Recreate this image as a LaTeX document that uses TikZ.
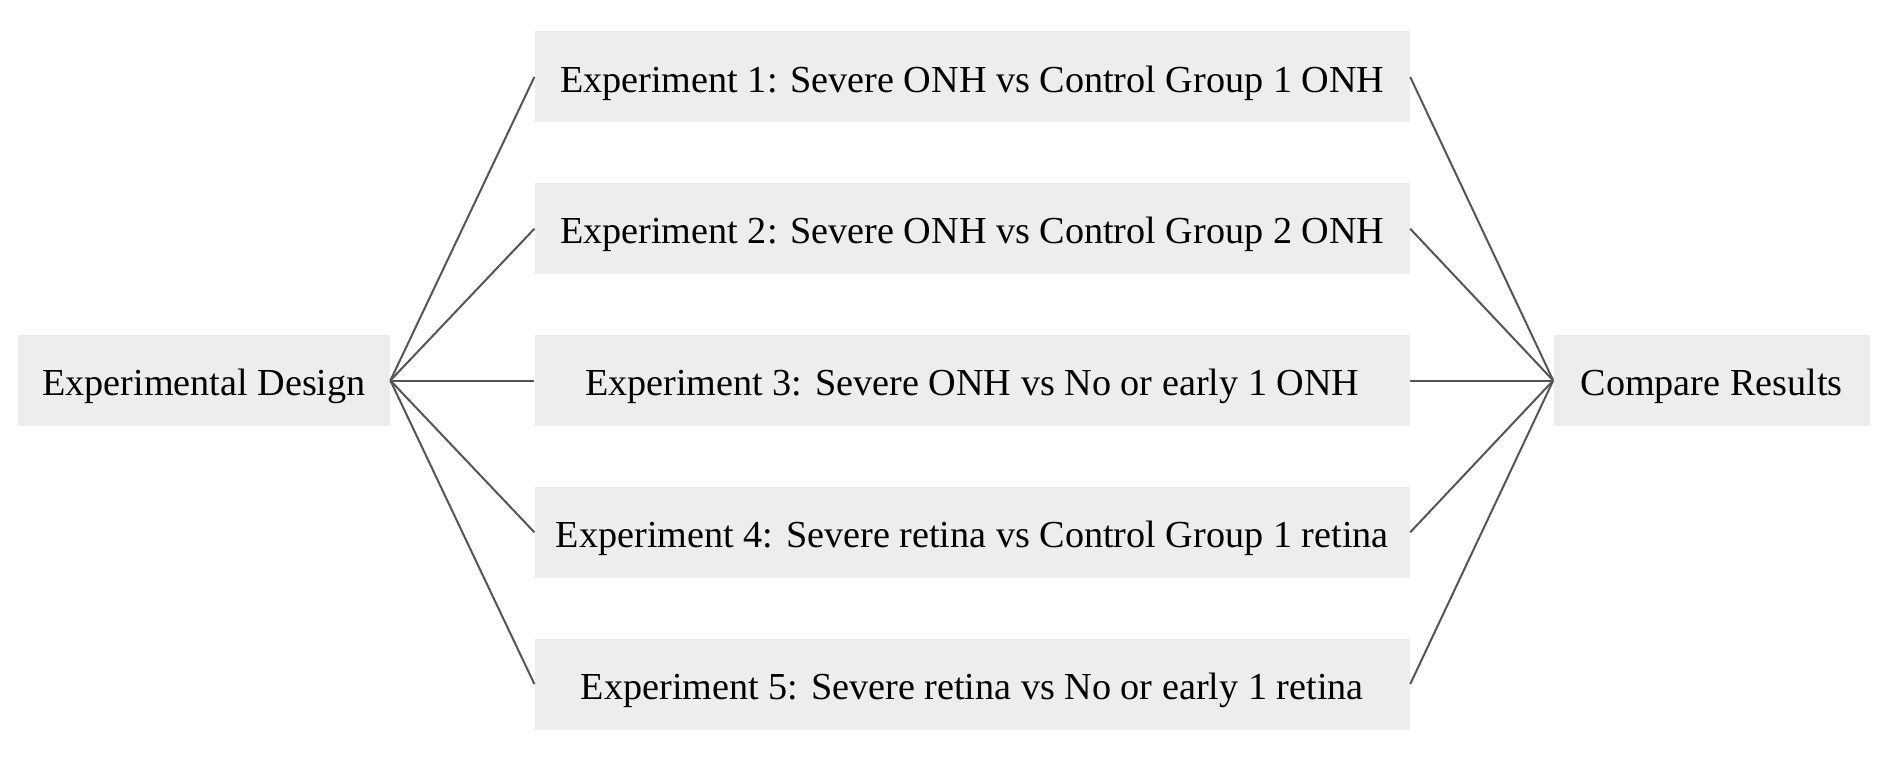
\documentclass[tikz,border=0pt]{standalone}
\usepackage{fontspec}
\setmainfont{Liberation Serif}
\usetikzlibrary{positioning}

\definecolor{boxgray}{HTML}{EDEDED}
\definecolor{linegray}{HTML}{555555}

\begin{document}
\begin{tikzpicture}[
    every node/.style = {rectangle, fill=boxgray, minimum height=45.5pt, inner sep=0pt,
        text height=15.1pt, text depth=0pt, font=\fontsize{19.1}{23}\selectfont},
    wide/.style = {minimum width=437.5pt},
    link/.style = {draw=linegray, line width=1pt}
]
    \useasboundingbox (0,0) rectangle (948pt,-384pt);

    \node[minimum width=186pt] (design) at (102pt,-190.25pt) {Experimental Design};
    \node[wide, right=72pt of design] (exp3) {Experiment 3: Severe ONH vs No or early 1 ONH};
    \node[wide, above=30pt of exp3] (exp2) {Experiment 2: Severe ONH vs Control Group 2 ONH};
    \node[wide, above=30pt of exp2] (exp1) {Experiment 1: Severe ONH vs Control Group 1 ONH};
    \node[wide, below=30pt of exp3] (exp4) {Experiment 4: Severe retina vs Control Group 1 retina};
    \node[wide, below=30pt of exp4] (exp5) {Experiment 5: Severe retina vs No or early 1 retina};
    \node[minimum width=158pt, right=71.5pt of exp3] (compare) {Compare Results};

    \foreach \i in {1,...,5} {
        \draw[link] (design.east) -- (exp\i.west);
        \draw[link] (exp\i.east) -- (compare.west);
    }
\end{tikzpicture}
\end{document}
